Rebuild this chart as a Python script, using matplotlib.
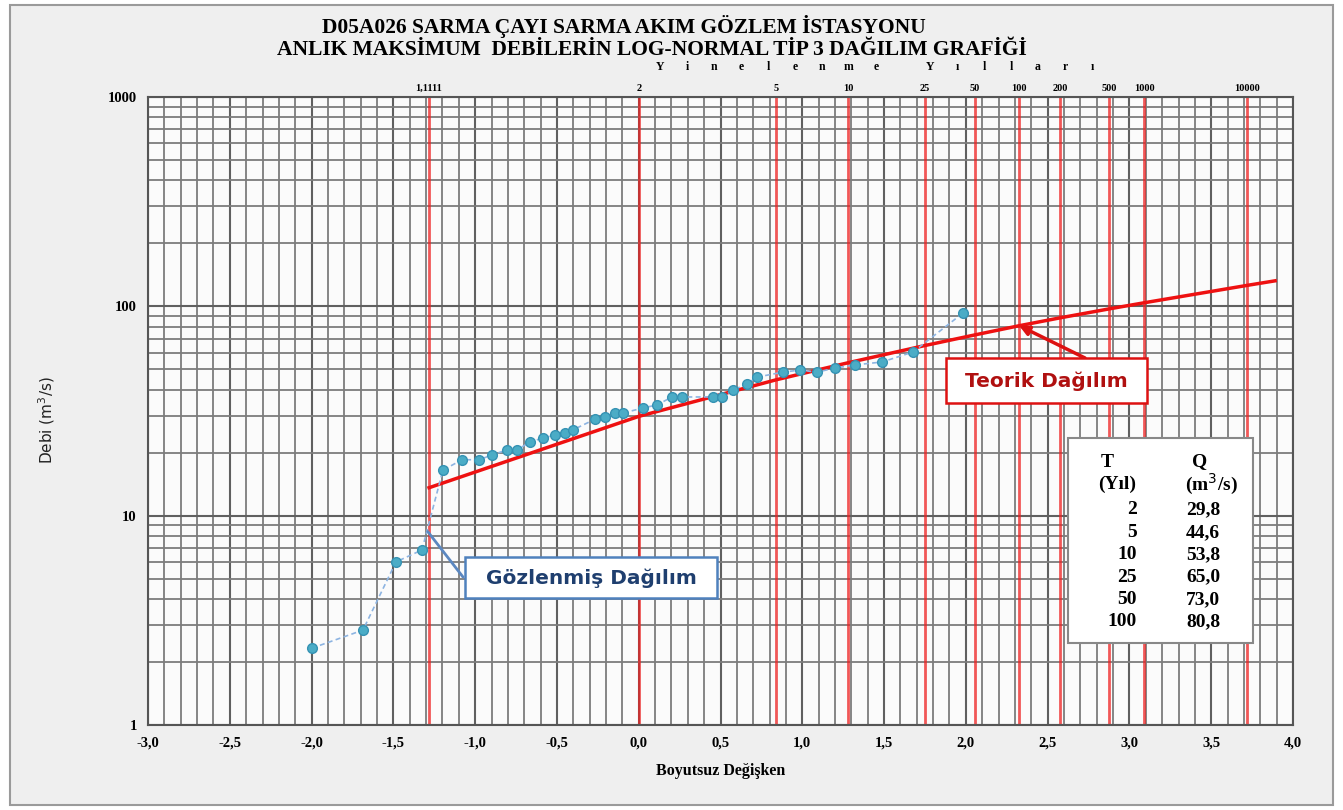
import matplotlib
matplotlib.use("Agg")
import matplotlib.pyplot as plt
from matplotlib.patches import Rectangle
from matplotlib.ticker import MultipleLocator, FixedLocator, FuncFormatter
from statistics import NormalDist

# observed annual maxima (reduced variate, Q m3/s)
obs_z = [-1.997, -1.686, -1.484, -1.325, -1.197, -1.080, -0.975, -0.897, -0.805, -0.744,
         -0.665, -0.585, -0.512, -0.451, -0.402, -0.267, -0.206, -0.145, -0.096, 0.026,
         0.112, 0.203, 0.265, 0.454, 0.509, 0.576, 0.662, 0.723, 0.882, 0.986,
         1.090, 1.200, 1.322, 1.487, 1.677, 1.983]
obs_q = [2.33, 2.84, 6.01, 6.86, 16.5, 18.5, 18.5, 19.5, 20.6, 20.6,
         22.5, 23.5, 24.3, 24.8, 25.7, 28.9, 29.6, 30.9, 30.9, 32.7,
         33.8, 36.9, 36.9, 36.9, 36.9, 39.8, 42.6, 45.9, 48.5, 49.6,
         48.5, 50.7, 52.5, 54.2, 60.5, 93.0]

# theoretical log-normal 3 curve at return periods
theo_T = [1.1111, 2, 5, 10, 25, 50, 100, 200, 500, 1000, 10000, 20000]
theo_q = [13.6, 29.8, 44.6, 53.8, 65.0, 73.0, 80.8, 88.1, 97.3, 104.0, 125.9, 132.4]

# return periods marked on top axis
line_T = [1.1111, 2, 5, 10, 25, 50, 100, 200, 500, 1000, 10000]
line_labels = ["1,1111", "2", "5", "10", "25", "50", "100", "200", "500", "1000", "10000"]

# summary table
table_T = ["2", "5", "10", "25", "50", "100"]
table_Q = ["29,8", "44,6", "53,8", "65,0", "73,0", "80,8"]

nd = NormalDist()
def z_of(T):
    return nd.inv_cdf(1 - 1 / T)

theo_z = [z_of(t) for t in theo_T]
line_z = [z_of(t) for t in line_T]

W, H = 1343, 810
serif = "Liberation Serif"

fig = plt.figure(figsize=(W / 100, H / 100), dpi=100)
fig.patch.set_facecolor("white")
fig.patches.append(Rectangle((10 / W, 5 / H), 1323 / W, 800 / H, transform=fig.transFigure,
                             facecolor="#efefef", edgecolor="#9a9a9a", lw=1.5, zorder=-10))

ax = fig.add_axes([148 / W, 1 - 725 / H, (1293 - 148) / W, (725 - 97) / H])
ax.set_facecolor("#fbfbfb")
ax.set_xlim(-3, 4)
ax.set_yscale("log")
ax.set_ylim(1, 1000)

ax.xaxis.set_major_locator(MultipleLocator(0.5))
ax.xaxis.set_minor_locator(MultipleLocator(0.1))
ax.xaxis.set_major_formatter(FuncFormatter(lambda v, p: f"{v:.1f}".replace(".", ",")))
ax.yaxis.set_major_locator(FixedLocator([1, 10, 100, 1000]))
ax.yaxis.set_major_formatter(FuncFormatter(lambda v, p: f"{v:g}"))
ax.grid(which="major", axis="both", color="#606060", lw=1.5)
ax.grid(which="minor", axis="both", color="#7c7c7c", lw=1.3)
ax.tick_params(which="both", length=0, pad=8)
for lab in ax.get_xticklabels() + ax.get_yticklabels():
    lab.set_family(serif)
    lab.set_fontweight("bold")
    lab.set_fontsize(10.5)
for s in ax.spines.values():
    s.set_color("#555555")
    s.set_linewidth(1.5)

for z in line_z:
    ax.axvline(z, color="#ee2222", lw=2, alpha=0.75, zorder=2)

sec = ax.secondary_xaxis("top")
sec.set_xticks(line_z, line_labels)
sec.tick_params(length=0, pad=3)
sec.spines["top"].set_visible(False)
for lab in sec.get_xticklabels():
    lab.set_family(serif)
    lab.set_fontweight("bold")
    lab.set_fontsize(7.5)

ax.plot(theo_z, theo_q, color="#ee1111", lw=2.5, zorder=4)
ax.plot(obs_z, obs_q, color="#8db4e2", lw=1.2, ls=(0, (3, 2)), marker="o", ms=7,
        mfc="#4bacc6", mec="#3592b3", mew=1, zorder=5)

# titles
fig.text(624 / W, 1 - 27 / H, "D05A026 SARMA ÇAYI SARMA AKIM GÖZLEM İSTASYONU", ha="center",
         va="center", family=serif, fontweight="bold", fontsize=15.5)
fig.text(652 / W, 1 - 50 / H, "ANLIK MAKSİMUM  DEBİLERİN LOG-NORMAL TİP 3 DAĞILIM GRAFİĞİ",
         ha="center", va="center", family=serif, fontweight="bold", fontsize=15.5)
for i, ch in enumerate("Yinelenme Yılları"):
    fig.text((660 + 27 * i) / W, 1 - 67 / H, ch, ha="center", va="center", family=serif,
             fontweight="bold", fontsize=8.5)

ax.set_xlabel("Boyutsuz Değişken", family=serif, fontweight="bold", fontsize=11.5, labelpad=10)
fig.text(47 / W, 1 - 420 / H, "Debi (m$^3$/s)", rotation=90, ha="center", va="center",
         family="DejaVu Sans", fontsize=11, color="#222222")

# Teorik Dağılım box
fig.patches.append(Rectangle((946 / W, 1 - 403 / H), 201 / W, 45 / H, transform=fig.transFigure,
                             facecolor="white", edgecolor="#dd1111", lw=1.8, zorder=6))
fig.text(1046 / W, 1 - 381 / H, "Teorik Dağılım", ha="center", va="center", color="#b01010",
         fontweight="bold", fontsize=14.5, family="DejaVu Sans", zorder=7)
ax.annotate("", xy=(theo_z[6], theo_q[6]), xytext=(1085, H - 358), textcoords="figure pixels",
            arrowprops=dict(arrowstyle="-|>", color="#dd1111", lw=2.5, mutation_scale=14,
                            shrinkA=0, shrinkB=0), zorder=6)

# Gözlenmiş Dağılım box
fig.patches.append(Rectangle((465 / W, 1 - 598 / H), 252 / W, 41 / H, transform=fig.transFigure,
                             facecolor="white", edgecolor="#4f81bd", lw=1.8, zorder=6))
fig.text(591 / W, 1 - 578 / H, "Gözlenmiş Dağılım", ha="center", va="center", color="#1f3f6f",
         fontweight="bold", fontsize=14.5, family="DejaVu Sans", zorder=7)
ax.annotate("", xy=(-1.29, 8.4), xytext=(463, H - 577), textcoords="figure pixels",
            arrowprops=dict(arrowstyle="-", color="#5b87c0", lw=2, shrinkA=0, shrinkB=0), zorder=6)

# T / Q table
fig.patches.append(Rectangle((1068 / W, 1 - 643 / H), 185 / W, 205 / H, transform=fig.transFigure,
                             facecolor="white", edgecolor="#888888", lw=1.5, zorder=6))
hdr = dict(ha="center", va="center", family=serif, fontweight="bold", fontsize=14, zorder=7)
fig.text(1107 / W, 1 - 462 / H, "T", **hdr)
fig.text(1200 / W, 1 - 462 / H, "Q", **hdr)
fig.text(1117 / W, 1 - 484 / H, "(Yıl)", **hdr)
fig.text(1211 / W, 1 - 484 / H, "(m$^3$/s)", **hdr)
for i, (t, q) in enumerate(zip(table_T, table_Q)):
    y = 1 - (510 + 22.4 * i) / H
    fig.text(1137 / W, y, t, ha="right", va="center", family=serif, fontweight="bold",
             fontsize=14, zorder=7)
    fig.text(1186 / W, y, q, ha="left", va="center", family=serif, fontweight="bold",
             fontsize=14, zorder=7)

fig.savefig("out.png", dpi=100, facecolor=fig.get_facecolor())
